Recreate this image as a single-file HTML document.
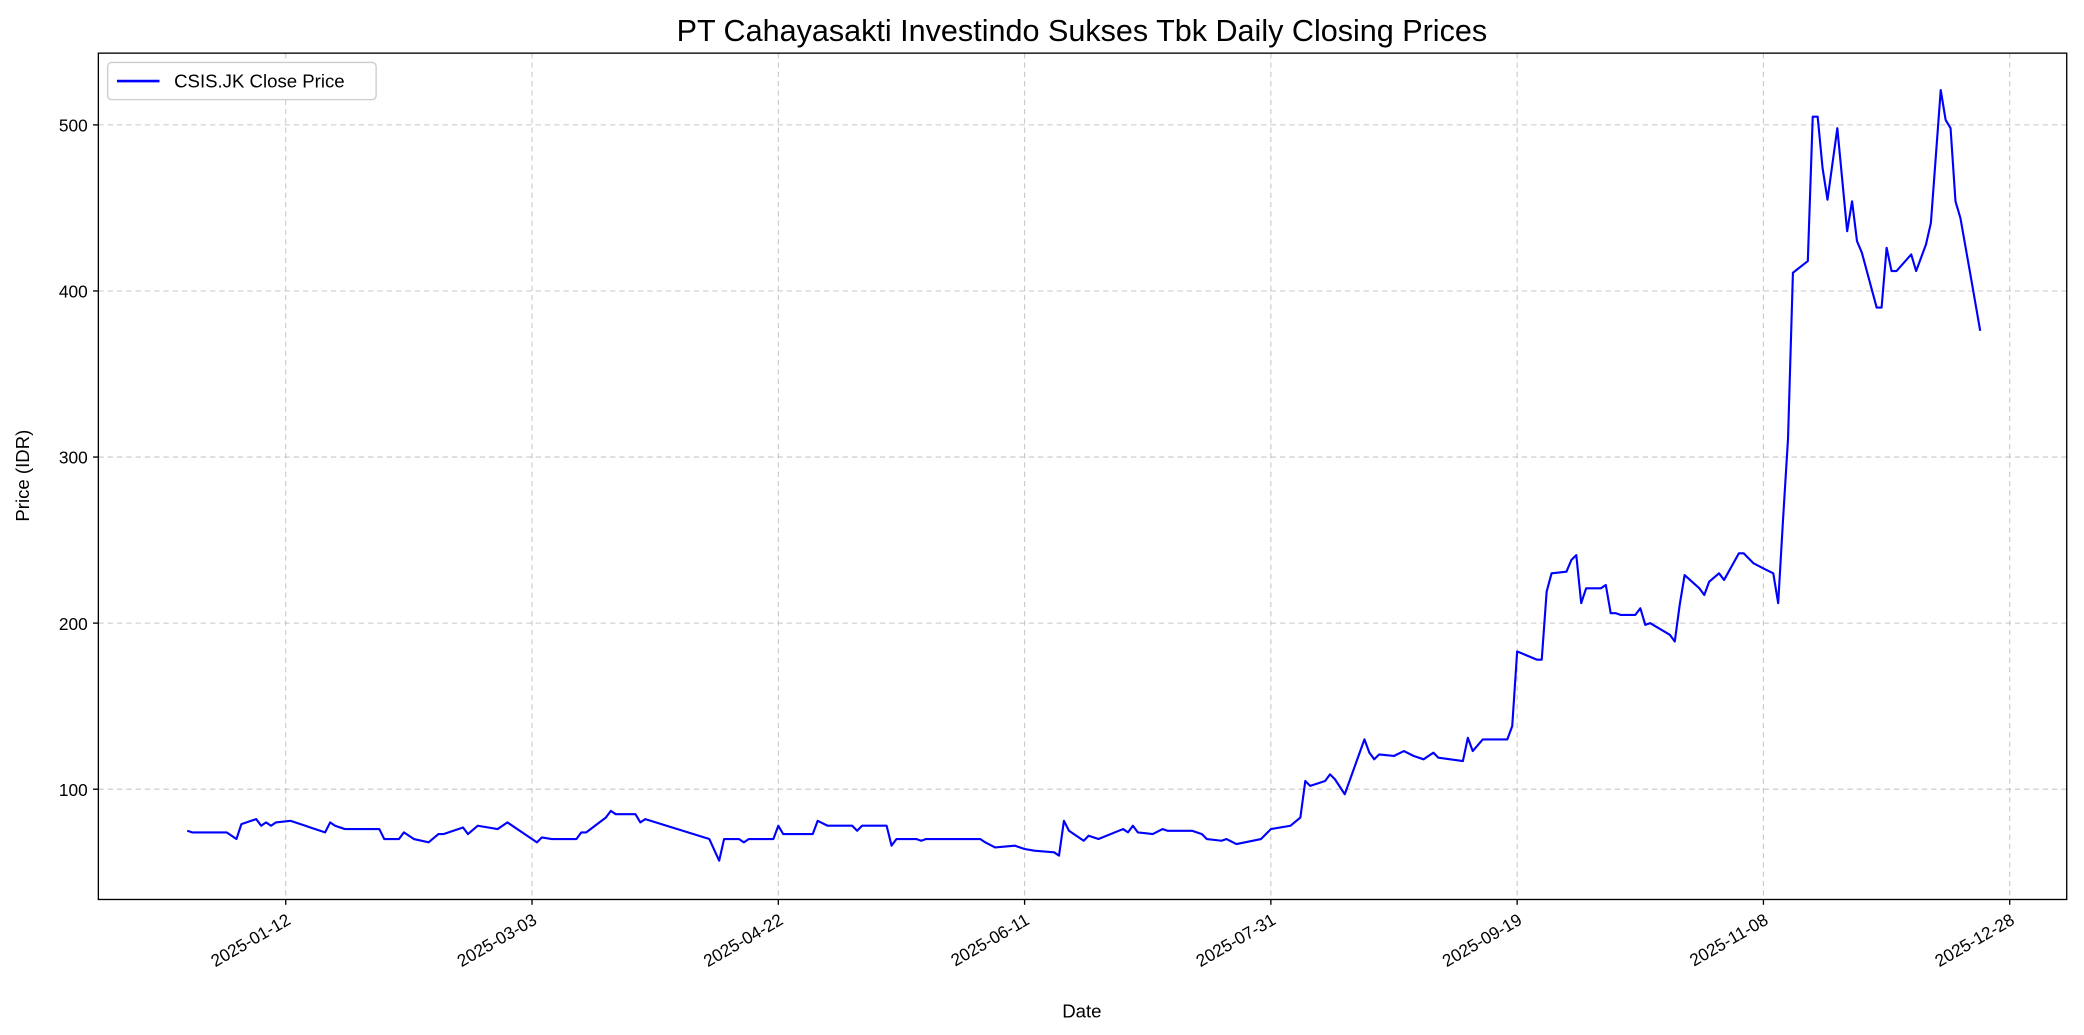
<!DOCTYPE html>
<html><head><meta charset="utf-8"><style>
body{margin:0;background:#fff}
svg{display:block;font-family:"Liberation Sans","DejaVu Sans",sans-serif}
</style></head><body>
<svg id="chart" width="2084" height="1035" viewBox="0 0 1568 779" preserveAspectRatio="none" xmlns="http://www.w3.org/2000/svg">
<rect width="1568" height="779" fill="#fff"/>
<text x="814" y="31" font-size="23" text-anchor="middle" fill="#000">PT Cahayasakti Investindo Sukses Tbk Daily Closing Prices</text>
<g id="grid"></g>
<g id="series"></g>
<rect x="74" y="40" width="1481" height="637" fill="none" stroke="#000" stroke-width="1"/>
<g id="axes"></g>
<text x="814" y="766" font-size="14" text-anchor="middle">Date</text>
<text transform="translate(22,358) rotate(-90)" font-size="14" text-anchor="middle">Price (IDR)</text>
<g>
<rect x="81" y="47" width="202" height="28" rx="3" fill="#fff" stroke="#ccc"/>
<line x1="88" y1="61" x2="120" y2="61" stroke="#0000ff" stroke-width="2"/>
<text x="131" y="66" font-size="14">CSIS.JK Close Price</text>
</g>
</svg>
<script>
// days of year 2025 (Jan 1 = 0)
const days=[-9,-8,-1,1,2,5,6,7,8,9,12,15,16,19,20,21,23,30,31,34,35,37,40,42,43,47,48,50,54,56,62,63,65,70,71,72,76,77,78,82,83,84,97,99,100,103,104,105,110,111,112,114,118,119,121,126,127,128,133,134,135,139,140,141,152,153,155,159,161,163,167,168,169,170,173,174,176,181,182,183,184,187,189,190,195,197,198,201,202,204,209,211,215,217,218,219,222,223,224,226,230,231,232,233,236,238,240,242,244,245,250,251,252,254,259,260,261,265,266,267,268,271,272,273,274,275,278,279,280,281,282,285,286,287,288,292,293,294,295,298,299,300,302,303,306,307,309,311,313,314,315,316,317,320,321,322,323,324,326,328,329,330,331,334,335,336,337,338,341,342,344,345,347,348,349,350,351,353,355];
const prices=[75,74,74,70,79,82,78,80,78,80,81,78,77,74,80,78,76,76,70,70,74,70,68,73,73,77,73,78,76,80,68,71,70,70,74,74,83,87,85,85,80,82,70,57,70,70,68,70,70,78,73,73,73,81,78,78,75,78,78,66,70,70,69,70,70,68,65,66,64,63,62,60,81,75,69,72,70,76,74,78,74,73,76,75,75,73,70,69,70,67,70,76,78,83,105,102,105,109,106,97,130,122,118,121,120,123,120,118,122,119,117,131,123,130,130,138,183,178,178,219,230,231,238,241,212,221,221,223,206,206,205,205,209,199,200,193,189,211,229,221,217,225,230,226,242,242,236,233,230,212,263,311,411,418,505,505,474,455,498,436,454,430,423,390,390,426,412,412,422,412,428,441,521,503,498,454,444,410,376];
const tickDays=[11,61,111,161,211,261,311,361];
const tickLabels=["2025-01-12","2025-03-03","2025-04-22","2025-06-11","2025-07-31","2025-09-19","2025-11-08","2025-12-28"];
const yTicks=[100,200,300,400,500];
const NS="http://www.w3.org/2000/svg";
const X0=74,X1=1555,Y0=40,Y1=677;
function xs(d){return 215+(d-11)*3.706;}
function ys(v){return 719-v*1.25;}
function mk(tag,attrs,parent){const e=document.createElementNS(NS,tag);for(const k in attrs)e.setAttribute(k,attrs[k]);parent.appendChild(e);return e;}
const grid=document.getElementById('grid'),axes=document.getElementById('axes'),series=document.getElementById('series');
tickDays.forEach((d,i)=>{
  const x=xs(d);
  const g=mk('line',{x1:x,x2:x,y1:Y0,y2:Y1,stroke:'#b0b0b0','stroke-width':0.8,'stroke-dasharray':'4,3',opacity:0.7},grid);
  
  
  mk('line',{x1:x,x2:x,y1:Y1,y2:Y1+4,stroke:'#000'},axes);
  const t=mk('text',{x:x,y:Y1+10,'font-size':13,'text-anchor':'end',transform:`rotate(-30 ${x} ${Y1+10})`,dy:'0.7em'},axes);
  t.textContent=tickLabels[i];
  
  
});
yTicks.forEach(v=>{
  const y=ys(v);
  const g=mk('line',{x1:X0,x2:X1,y1:y,y2:y,stroke:'#b0b0b0','stroke-width':0.8,'stroke-dasharray':'4,3',opacity:0.7},grid);
  
  
  mk('line',{x1:X0-4,x2:X0,y1:y,y2:y,stroke:'#000'},axes);
  const t=mk('text',{x:X0-8,y:y+5,'font-size':13,'text-anchor':'end'},axes);
  t.textContent=String(v);
  
  
});
const pts=days.map((d,i)=>xs(d).toFixed(1)+','+ys(prices[i]).toFixed(1)).join(' ');
const pl=mk('polyline',{points:pts,fill:'none',stroke:'#0000ff','stroke-width':1.6,'stroke-linejoin':'round'},series);


</script>
</body></html>
